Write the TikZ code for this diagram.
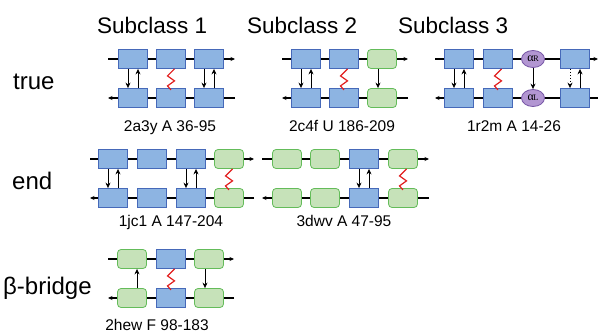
\documentclass[tikz,border=0pt]{standalone}
\usepackage{fontspec}
\setmainfont{Liberation Sans}
\newfontfamily\serifgr{Liberation Serif}
\usetikzlibrary{arrows.meta,shapes.geometric,backgrounds}
\definecolor{bfill}{RGB}{141,180,226}
\definecolor{bdraw}{RGB}{70,105,185}
\definecolor{gfill}{RGB}{198,226,185}
\definecolor{gdraw}{RGB}{100,188,90}
\definecolor{pfill}{RGB}{178,150,210}
\definecolor{pdraw}{RGB}{118,85,165}
\definecolor{zred}{RGB}{225,30,30}
\tikzset{
  bbox/.style={draw=bdraw,fill=bfill,line width=0.8pt,minimum width=29pt,minimum height=19pt,inner sep=0pt},
  gbox/.style={draw=gdraw,fill=gfill,line width=0.8pt,rounded corners=3.5pt,minimum width=29pt,minimum height=19pt,inner sep=0pt},
  ebox/.style={ellipse,draw=pdraw,fill=pfill,line width=0.8pt,minimum width=23pt,minimum height=17pt,inner sep=0pt},
  ln/.style={line width=1.2pt,black},
  tip/.style={-{Stealth[length=4.5pt,width=4pt]}},
  varr/.style={line width=1pt,black,-{Stealth[length=5.5pt,width=5pt]}},
  zig/.style={zred,line width=1.2pt},
  hdr/.style={anchor=base west,font=\fontsize{22.5}{22.5}\selectfont,inner sep=0pt},
  rowl/.style={anchor=base west,font=\fontsize{24}{24}\selectfont,inner sep=0pt},
  lab/.style={anchor=base,font=\fontsize{15.5}{15.5}\selectfont,inner sep=0pt},
  alab/.style={font=\serifgr\fontsize{12}{12}\selectfont,inner sep=0pt},
}
\newcommand{\zigz}[1]{\draw[zig] ([xshift=3.5pt]#1.south) -- ++(-7,7) -- ++(7,5) -- ++(-7,5) -- ++(3.5,4);}
\begin{document}
\begin{tikzpicture}[x=1pt,y=-1pt]
\useasboundingbox (0,0) rectangle (598,332);
% headers
\node[hdr] (h1) at (97,33) {Subclass 1};
\node[hdr] (h2) at (247,33) {Subclass 2};
\node[hdr] (h3) at (398,33) {Subclass 3};
% row labels
\node[rowl] (r1) at (13,89) {true};
\node[rowl] (r2) at (12,189) {end};
\node[rowl] (r3) at (3,294) {β-bridge};

% ---------- Row 1, panel 1 ----------
\node[bbox] (a1) at (133,59) {};
\node[bbox] (a2) at (171,59) {};
\node[bbox] (a3) at (209,59) {};
\node[bbox] (a4) at (133,98) {};
\node[bbox] (a5) at (171,98) {};
\node[bbox] (a6) at (209,98) {};
\coordinate (as1) at (108,59); \coordinate (ae1) at (235,59);
\coordinate (as2) at (108,98); \coordinate (ae2) at (235,98);
\draw[varr] ([xshift=-5pt]a1.south) -- ([xshift=-5pt]a4.north);
\draw[varr] ([xshift=5pt]a4.north) -- ([xshift=5pt]a1.south);
\draw[varr] ([xshift=-5pt]a3.south) -- ([xshift=-5pt]a6.north);
\draw[varr] ([xshift=5pt]a6.north) -- ([xshift=5pt]a3.south);
\zigz{a2}
\node[lab] (la) at (170,131) {2a3y A 36-95};

% ---------- Row 1, panel 2 ----------
\node[bbox] (b1) at (306,59) {};
\node[bbox] (b2) at (344,59) {};
\node[gbox] (b3) at (382,59) {};
\node[bbox] (b4) at (306,98) {};
\node[bbox] (b5) at (344,98) {};
\node[gbox] (b6) at (382,98) {};
\coordinate (bs1) at (282,59); \coordinate (be1) at (408,59);
\coordinate (bs2) at (282,98); \coordinate (be2) at (408,98);
\draw[varr] ([xshift=-5pt]b1.south) -- ([xshift=-5pt]b4.north);
\draw[varr] ([xshift=5pt]b4.north) -- ([xshift=5pt]b1.south);
\draw[varr] ([xshift=-4pt]b3.south) -- ([xshift=-4pt]b6.north);
\zigz{b2}
\node[lab] (lb) at (342,131) {2c4f U 186-209};

% ---------- Row 1, panel 3 ----------
\node[bbox] (c1) at (459,59) {};
\node[bbox] (c2) at (498,59) {};
\node[ebox] (c3) at (533,59) {};
\node[alab] at (c3) {α\kern-0.5pt{\fontsize{8.5}{8.5}\selectfont R}};
\node[bbox] (c4) at (575,59) {};
\node[bbox] (c5) at (459,98) {};
\node[bbox] (c6) at (498,98) {};
\node[ebox] (c7) at (533,98) {};
\node[alab] at (c7) {α\kern-0.5pt{\fontsize{8.5}{8.5}\selectfont L}};
\node[bbox] (c8) at (575,98) {};
\coordinate (cs1) at (435,59); \coordinate (ce1) at (598,59);
\coordinate (cs2) at (435,98); \coordinate (ce2) at (598,98);
\draw[varr] ([xshift=-5pt]c1.south) -- ([xshift=-5pt]c5.north);
\draw[varr] ([xshift=5pt]c5.north) -- ([xshift=5pt]c1.south);
\draw[varr] (c3.south) -- (c7.north);
\draw[varr,dotted] ([xshift=-5pt]c4.south) -- ([xshift=-5pt]c8.north);
\draw[varr] ([xshift=5pt]c8.north) -- ([xshift=5pt]c4.south);
\zigz{c2}
\node[lab] (lc) at (514,131) {1r2m A 14-26};

% ---------- Row 2, panel 1 ----------
\node[bbox] (d1) at (113,159) {};
\node[bbox] (d2) at (152,159) {};
\node[bbox] (d3) at (191,159) {};
\node[gbox] (d4) at (229,159) {};
\node[bbox] (d5) at (113,198) {};
\node[bbox] (d6) at (152,198) {};
\node[bbox] (d7) at (191,198) {};
\node[gbox] (d8) at (229,198) {};
\coordinate (ds1) at (90,159); \coordinate (de1) at (254,159);
\coordinate (ds2) at (90,198); \coordinate (de2) at (254,198);
\draw[varr] ([xshift=-5pt]d1.south) -- ([xshift=-5pt]d5.north);
\draw[varr] ([xshift=5pt]d5.north) -- ([xshift=5pt]d1.south);
\draw[varr] ([xshift=-5pt]d3.south) -- ([xshift=-5pt]d7.north);
\draw[varr] ([xshift=5pt]d7.north) -- ([xshift=5pt]d3.south);
\zigz{d4}
\node[lab] (ld) at (171,226) {1jc1 A 147-204};

% ---------- Row 2, panel 2 ----------
\node[gbox] (e1) at (287,159) {};
\node[gbox] (e2) at (325,159) {};
\node[bbox] (e3) at (364,159) {};
\node[gbox] (e4) at (403,159) {};
\node[gbox] (e5) at (287,198) {};
\node[gbox] (e6) at (325,198) {};
\node[bbox] (e7) at (364,198) {};
\node[gbox] (e8) at (403,198) {};
\coordinate (es1) at (262,159); \coordinate (ee1) at (429,159);
\coordinate (es2) at (262,198); \coordinate (ee2) at (429,198);
\draw[varr] ([xshift=-5pt]e3.south) -- ([xshift=-5pt]e7.north);
\draw[varr] ([xshift=5pt]e7.north) -- ([xshift=5pt]e3.south);
\zigz{e4}
\node[lab] (le) at (344,226) {3dwv A 47-95};

% ---------- Row 3 ----------
\node[gbox] (f1) at (132,259) {};
\node[bbox] (f2) at (171,259) {};
\node[gbox] (f3) at (209,259) {};
\node[gbox] (f4) at (132,298) {};
\node[bbox] (f5) at (171,298) {};
\node[gbox] (f6) at (209,298) {};
\coordinate (fs1) at (108,259); \coordinate (fe1) at (234,259);
\coordinate (fs2) at (108,298); \coordinate (fe2) at (234,298);
\draw[varr] ([xshift=5pt]f4.north) -- ([xshift=5pt]f1.south);
\draw[varr] ([xshift=-4pt]f3.south) -- ([xshift=-4pt]f6.north);
\zigz{f2}
\node[lab] (lf) at (157,330) {2hew F 98-183};

% ---------- chain lines ----------
\begin{scope}[on background layer]
\foreach \p in {a,b,c,d,e,f}{
  \draw[ln,tip] (\p s1) -- (\p e1);
  \draw[ln,tip] (\p e2) -- (\p s2);
}
\end{scope}
\end{tikzpicture}
\end{document}
